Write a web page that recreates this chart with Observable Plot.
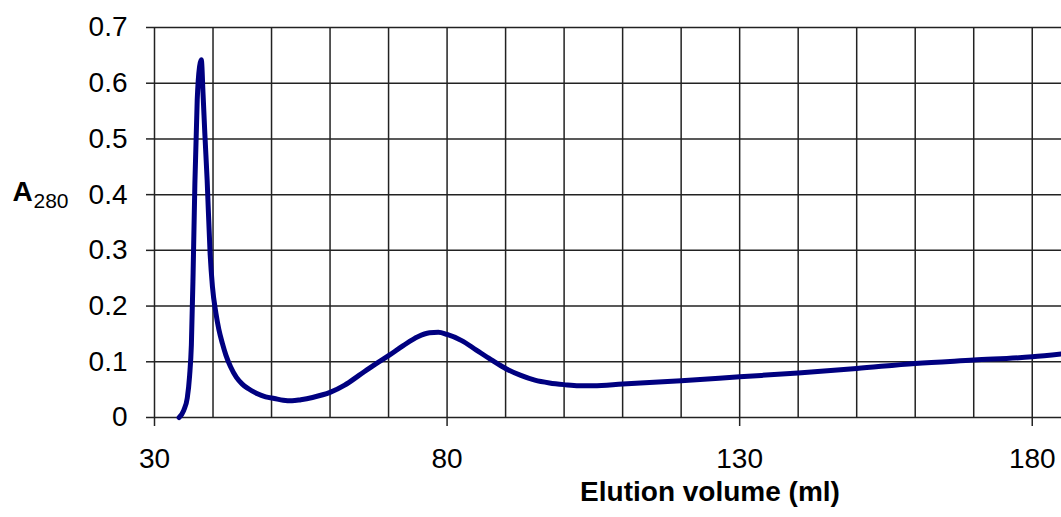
<!DOCTYPE html>
<html>
<head>
<meta charset="utf-8">
<script src="https://cdn.jsdelivr.net/npm/d3@7"></script>
<script src="https://cdn.jsdelivr.net/npm/@observablehq/plot@0.6"></script>
<style>
  html, body { margin: 0; padding: 0; background: #fff; }
</style>
</head>
<body>
<div id="chart"></div>
<script>
// Elution volume (ml)
const volume = [34.2, 35.0, 35.6, 36.0, 36.3, 36.6, 36.9, 37.3, 37.7, 38.0, 38.3, 38.6, 39.0, 39.5, 39.9, 40.5, 41.0, 41.6, 42.2, 43.0, 44.0, 45.0, 46.0, 47.5, 49.0, 50.5, 52.0, 53.5, 55.0, 57.0, 60.0, 62.5, 65.0, 67.5, 70.0, 72.5, 75.0, 77.0, 78.5, 80.0, 82.5, 85.0, 87.5, 90.0, 92.5, 95.0, 97.5, 100.0, 102.5, 105.0, 110.0, 120.0, 130.0, 140.0, 150.0, 160.0, 170.0, 180.0, 185.0];
// Absorbance at 280 nm
const a280 = [0, 0.013, 0.035, 0.075, 0.13, 0.26, 0.42, 0.57, 0.63, 0.642, 0.58, 0.51, 0.425, 0.295, 0.235, 0.187, 0.158, 0.133, 0.112, 0.091, 0.072, 0.06, 0.052, 0.043, 0.037, 0.034, 0.031, 0.030, 0.032, 0.036, 0.045, 0.058, 0.076, 0.094, 0.111, 0.129, 0.145, 0.152, 0.153, 0.149, 0.138, 0.121, 0.104, 0.088, 0.076, 0.067, 0.062, 0.059, 0.057, 0.057, 0.060, 0.066, 0.073, 0.080, 0.088, 0.097, 0.103, 0.109, 0.114];

const xGrid = [30, 40, 50, 60, 70, 80, 90, 100, 110, 120, 130, 140, 150, 160, 170, 180];
const xTicks = [30, 80, 130, 180];
const yTicks = [0, 0.1, 0.2, 0.3, 0.4, 0.5, 0.6, 0.7];
const xLabel = "Elution volume (ml)";
const yLabelMain = "A";
const yLabelSub = "280";

const data = volume.map((v, i) => ({volume: v, a280: a280[i]}));

const chart = Plot.plot({
  width: 1061,
  height: 517,
  marginLeft: 154,
  marginRight: 0,
  marginTop: 27,
  marginBottom: 100,
  style: {fontFamily: "'Liberation Sans', Arial, sans-serif", fontSize: "28px", color: "#000", background: "#fff"},
  x: {domain: [30, 185]},
  y: {domain: [0, 0.7]},
  marks: [
    Plot.ruleX(xGrid, {y1: 0, y2: 0.7, stroke: "#222", strokeWidth: 1.5}),
    Plot.ruleY(yTicks, {x1: 30, x2: 185, stroke: "#222", strokeWidth: 1.5}),
    Plot.axisX({ticks: xTicks, tickSize: 9, tickPadding: 22, tickFormat: d => String(d), stroke: "#222", strokeWidth: 1.5, label: null, fontSize: 28}),
    Plot.axisY({ticks: yTicks, tickSize: 8, tickPadding: 19, tickFormat: d => String(d), stroke: "#222", strokeWidth: 1.5, label: null, fontSize: 28}),
    Plot.line(data, {x: "volume", y: "a280", stroke: "#000080", strokeWidth: 5, curve: "monotone-x", strokeLinejoin: "round", strokeLinecap: "round"}),
    Plot.text([xLabel], {frameAnchor: "bottom", text: d => d, dx: 102, dy: 75, lineAnchor: "middle", fontWeight: "bold", fontSize: 28, fill: "#000"}),
    Plot.text([yLabelMain], {frameAnchor: "left", text: d => d, textAnchor: "start", dx: -142, dy: -30, lineAnchor: "middle", fontWeight: "bold", fontSize: 28, fill: "#000"}),
    Plot.text([yLabelSub], {frameAnchor: "left", text: d => d, textAnchor: "start", dx: -121, dy: -21, lineAnchor: "middle", fontSize: 21, fill: "#000"})
  ]
});
document.getElementById("chart").appendChild(chart);
</script>
</body>
</html>
